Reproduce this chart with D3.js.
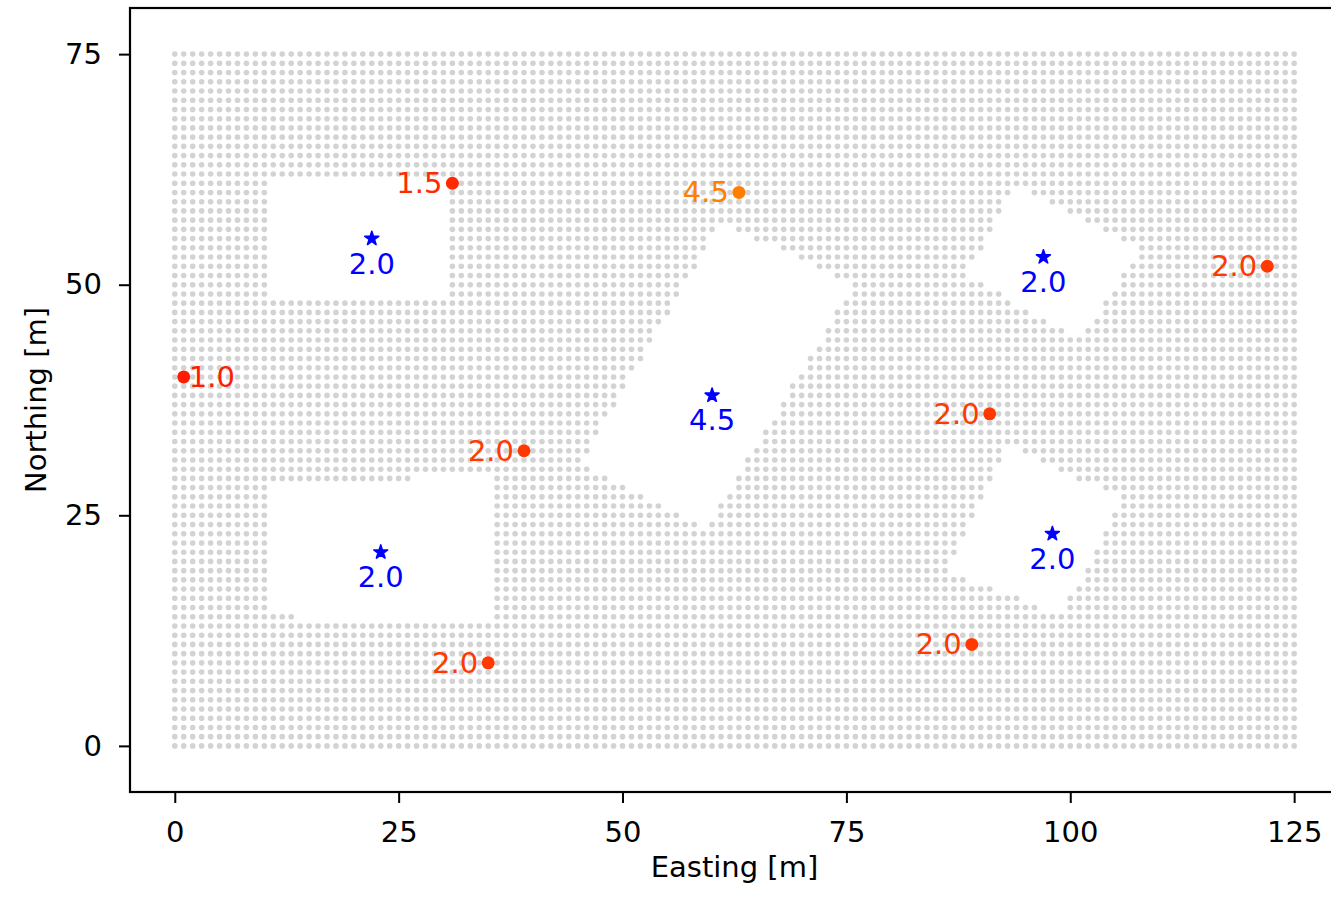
<!DOCTYPE html>
<html>
<head>
<meta charset="utf-8">
<script src="https://cdn.jsdelivr.net/npm/d3@7"></script>
<style>
  body { margin: 0; background: #fff; }
  text { font-family: "DejaVu Sans", sans-serif; }
</style>
</head>
<body>
<div id="chart"></div>
<script>
// grid of candidate positions (1 m spacing)
const gridEast = d3.range(0, 126);
const gridNorth = d3.range(0, 76);

// areas with no grid points (polygons, easting/northing)
const exclusionZones = [
  [[10.5, 48.5], [10.5, 61.5], [30.5, 61.5], [30.5, 48.5]],
  [[10.5, 14.6], [10.5, 28.5], [35.6, 29.28], [35.6, 13.5], [13.6, 13.9]],
  [[61.0, 56.8], [75.8, 50.0], [59.2, 23.5], [45.3, 30.5]],
  [[94.0, 60.8], [108.0, 53.7], [101.0, 44.3], [88.3, 51.0]],
  [[93.2, 32.4], [106.0, 26.8], [99.0, 14.2], [86.3, 19.0]]
];

// receivers (red dots) - label to the side
const receiverEast = [1, 31, 63, 122, 91, 39, 35, 89];
const receiverNorth = [40, 61, 60, 52, 36, 32, 9, 11];
const receiverHeight = [1.0, 1.5, 4.5, 2.0, 2.0, 2.0, 2.0, 2.0];
const receiverLabelSide = ["right", "left", "left", "left", "left", "left", "left", "left"];

// sources (blue stars) - label below
const sourceEast = [22, 23, 60, 97, 98];
const sourceNorth = [55, 21, 38, 53, 23];
const sourceHeight = [2.0, 2.0, 4.5, 2.0, 2.0];

const xTicks = [0, 25, 50, 75, 100, 125];
const yTicks = [0, 25, 50, 75];

const W = 1331, H = 900;
const margin = { top: 8, left: 130, bottom: 108 };
const plotBottom = H - margin.bottom;
const fontSize = "29px";

const x = d3.scaleLinear().domain([-5, 130]).range([margin.left, margin.left + 135 * 8.955]);
const y = d3.scaleLinear().domain([-5, 80]).range([plotBottom, margin.top]);

const heightColor = d3.scaleLinear().domain([0, 9]).range(["#ff0000", "#ffff00"]);

const svg = d3.select("#chart").append("svg")
    .attr("width", W)
    .attr("height", H);

// grid points outside the zones
const points = [];
gridNorth.forEach(n => {
    gridEast.forEach(e => {
        if (!exclusionZones.some(z => d3.polygonContains(z, [e, n]))) points.push([e, n]);
    });
});

svg.append("g")
  .selectAll("circle")
  .data(points)
  .join("circle")
    .attr("cx", d => x(d[0]))
    .attr("cy", d => y(d[1]))
    .attr("r", 2.8)
    .attr("fill", "#d3d3d3");

// receivers
const receivers = receiverEast.map((e, i) => ({
    e, n: receiverNorth[i], h: receiverHeight[i], side: receiverLabelSide[i]
}));

svg.append("g")
  .selectAll("circle")
  .data(receivers)
  .join("circle")
    .attr("cx", d => x(d.e))
    .attr("cy", d => y(d.n))
    .attr("r", 6.5)
    .attr("fill", d => heightColor(d.h));

svg.append("g")
  .selectAll("text")
  .data(receivers)
  .join("text")
    .attr("x", d => x(d.e) + (d.side === "right" ? 5 : -10))
    .attr("y", d => y(d.n) + 10)
    .attr("text-anchor", d => d.side === "right" ? "start" : "end")
    .style("font-size", fontSize)
    .attr("fill", d => heightColor(d.h))
    .text(d => d.h.toFixed(1));

// sources
const sources = sourceEast.map((e, i) => ({ e, n: sourceNorth[i], h: sourceHeight[i] }));

svg.append("g")
  .selectAll("path")
  .data(sources)
  .join("path")
    .attr("transform", d => `translate(${x(d.e)},${y(d.n)})`)
    .attr("d", d3.symbol(d3.symbolStar, 60))
    .attr("fill", "#0000ff")
    .attr("stroke", "#0000ff")
    .attr("stroke-width", 1.6)
    .attr("stroke-linejoin", "round");

svg.append("g")
  .selectAll("text")
  .data(sources)
  .join("text")
    .attr("x", d => x(d.e))
    .attr("y", d => y(d.n) + 35)
    .attr("text-anchor", "middle")
    .style("font-size", fontSize)
    .attr("fill", "#0000ff")
    .text(d => d.h.toFixed(1));

// axes
const xAxis = svg.append("g")
    .attr("transform", `translate(0,${plotBottom})`)
    .call(d3.axisBottom(x).tickValues(xTicks).tickSize(11).tickPadding(18));
const yAxis = svg.append("g")
    .attr("transform", `translate(${margin.left},0)`)
    .call(d3.axisLeft(y).tickValues(yTicks).tickSize(11).tickPadding(17));

[xAxis, yAxis].forEach(a => {
    a.select(".domain").remove();
    a.selectAll(".tick line").attr("stroke", "#000").attr("stroke-width", 2);
    a.selectAll(".tick text")
        .style("font-family", "DejaVu Sans, sans-serif")
        .style("font-size", fontSize)
        .attr("fill", "#000");
});

// frame
svg.append("rect")
    .attr("x", margin.left)
    .attr("y", margin.top)
    .attr("width", x(130) - margin.left)
    .attr("height", plotBottom - margin.top)
    .attr("fill", "none")
    .attr("stroke", "#000")
    .attr("stroke-width", 2.2);

svg.append("text")
    .attr("x", x(62.5))
    .attr("y", 877)
    .attr("text-anchor", "middle")
    .style("font-size", fontSize)
    .text("Easting [m]");

svg.append("text")
    .attr("transform", `translate(46,${(margin.top + plotBottom) / 2}) rotate(-90)`)
    .attr("text-anchor", "middle")
    .style("font-size", fontSize)
    .text("Northing [m]");
</script>
</body>
</html>
